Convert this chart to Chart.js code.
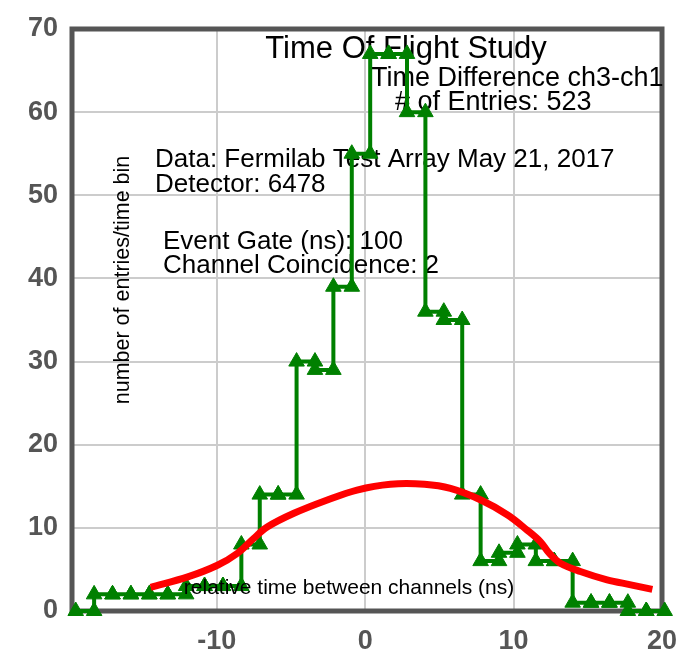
<!DOCTYPE html>
<html><head><meta charset="utf-8">
<script src="https://cdn.jsdelivr.net/npm/chart.js@4"></script>
<style>html,body{margin:0;padding:0;background:#fff;} #c{display:block;}</style>
</head><body>
<canvas id="c" width="676" height="659"></canvas>
<script>
// ---- data ----
const binEdges = [-19.5, -18.26, -17.02, -15.78, -14.54, -13.3, -12.06, -10.82, -9.58, -8.34, -7.1,
  -5.86, -4.62, -3.38, -2.14, -0.9, 0.34, 1.58, 2.82, 4.06, 5.3, 6.54, 7.78, 9.02, 10.26, 11.5,
  12.74, 13.98, 15.22, 16.46, 17.7, 18.94, 20.18];
const binCounts = [0, 2, 2, 2, 2, 2, 3, 3, 3, 8, 14, 14, 30, 29, 39, 55, 67, 67, 60, 36, 35, 14,
  6, 7, 8, 6, 6, 1, 1, 1, 0, 0];
const fitX = [-14.45, -11.95, -9.95, -8.6, -7.5, -6.6, -4.8, -2.55, -0.55, 1.7, 4.0, 5.75, 7.8,
  9.6, 10.9, 11.8, 12.4, 13.15, 14.5, 16.3, 17.9, 19.35];
const fitY = [2.85, 4.1, 5.5, 6.95, 8.75, 10.1, 11.75, 13.35, 14.55, 15.25, 15.25, 14.75, 13.35,
  11.55, 9.75, 8.35, 6.95, 5.75, 4.75, 3.75, 3.15, 2.6];
const xTickValues = [-10, 0, 10, 20];
const yTickValues = [0, 10, 20, 30, 40, 50, 60, 70];
const titleText = 'Time Of Flight Study';
const subTitleLines = ['Time Difference ch3-ch1', '# of Entries: 523'];
const infoLines = ['Data: Fermilab Test Array May 21, 2017', 'Detector: 6478'];
const runLines = ['Event Gate (ns): 100', 'Channel Coincidence: 2'];
const xAxisTitle = 'relative time between channels (ns)';
const yAxisTitle = 'number of entries/time bin';

// ---- build histogram outline from bins ----
const outline = [];
for (let k = 0; k < binCounts.length; k++) {
  outline.push({x: binEdges[k], y: binCounts[k]});
  outline.push({x: binEdges[k + 1], y: binCounts[k]});
}
const fitPts = fitX.map((x, i) => ({x, y: fitY[i]}));

const FONT = "'Liberation Sans', Arial, Helvetica, sans-serif";

const boxPlugin = {
  id: 'box',
  beforeDatasetsDraw(chart) {
    const {ctx, chartArea: a} = chart;
    ctx.save();
    ctx.strokeStyle = '#555';
    ctx.lineWidth = 5;
    ctx.strokeRect(a.left, a.top, a.right - a.left, a.bottom - a.top);
    ctx.fillStyle = '#000';
    ctx.textBaseline = 'alphabetic';
    ctx.font = '31px ' + FONT;
    ctx.textAlign = 'center';
    ctx.fillText(titleText, 406, 58);
    ctx.font = '27px ' + FONT;
    ctx.textAlign = 'left';
    ctx.fillText(subTitleLines[0], 371, 86);
    ctx.fillText(subTitleLines[1], 395, 110);
    ctx.font = '26px ' + FONT;
    ctx.fillText(infoLines[0], 155, 167);
    ctx.fillText(infoLines[1], 155, 192);
    ctx.fillText(runLines[0], 163, 249);
    ctx.fillText(runLines[1], 163, 273);
    ctx.font = '21.5px ' + FONT;
    ctx.textAlign = 'center';
    ctx.save();
    ctx.translate(129, 280);
    ctx.rotate(-Math.PI / 2);
    ctx.fillText(yAxisTitle, 0, 0);
    ctx.restore();
    ctx.restore();
  },
  afterDatasetsDraw(chart) {
    const {ctx} = chart;
    ctx.save();
    ctx.fillStyle = '#000';
    ctx.textBaseline = 'alphabetic';
    ctx.font = '21px ' + FONT;
    ctx.textAlign = 'center';
    ctx.fillText(xAxisTitle, 349, 594);
    ctx.restore();
  }
};

new Chart(document.getElementById('c'), {
  type: 'line',
  data: {
    datasets: [
      {
        label: 'fit',
        data: fitPts,
        borderColor: '#ff0000',
        borderWidth: 7,
        pointRadius: 0,
        tension: 0.35,
        fill: false,
        clip: false,
        order: 0
      },
      {
        label: 'histogram',
        data: outline,
        borderColor: '#008000',
        backgroundColor: '#008000',
        borderWidth: 4,
        pointStyle: 'triangle',
        pointRadius: 9,
        pointBorderWidth: 1,
        pointBackgroundColor: '#008000',
        pointBorderColor: '#008000',
        tension: 0,
        fill: false,
        clip: false,
        order: 1
      }
    ]
  },
  options: {
    responsive: false,
    animation: false,
    events: [],
    layout: {padding: {top: 29, right: 14, left: 0, bottom: 0}},
    plugins: {legend: {display: false}, tooltip: {enabled: false}, title: {display: false}},
    scales: {
      x: {
        type: 'linear',
        min: -19.75,
        max: 20,
        afterBuildTicks(s) { s.ticks = xTickValues.map(v => ({value: v})); },
        afterFit(s) { s.height = 48; s.paddingLeft = 0; s.paddingRight = 0; },
        grid: {color: '#cccccc', lineWidth: 2, drawTicks: false},
        border: {display: false},
        ticks: {color: '#555', font: {family: FONT, size: 27, weight: 'bold'}, padding: 14, maxRotation: 0}
      },
      y: {
        min: 0,
        max: 70,
        afterBuildTicks(s) { s.ticks = yTickValues.map(v => ({value: v})); },
        afterFit(s) { s.width = 72; s.paddingTop = 0; s.paddingBottom = 0; },
        grid: {color: '#cccccc', lineWidth: 2, drawTicks: false},
        border: {display: false},
        ticks: {color: '#555', font: {family: FONT, size: 27, weight: 'bold'}, padding: 14}
      }
    }
  },
  plugins: [boxPlugin]
});
</script>
</body></html>
